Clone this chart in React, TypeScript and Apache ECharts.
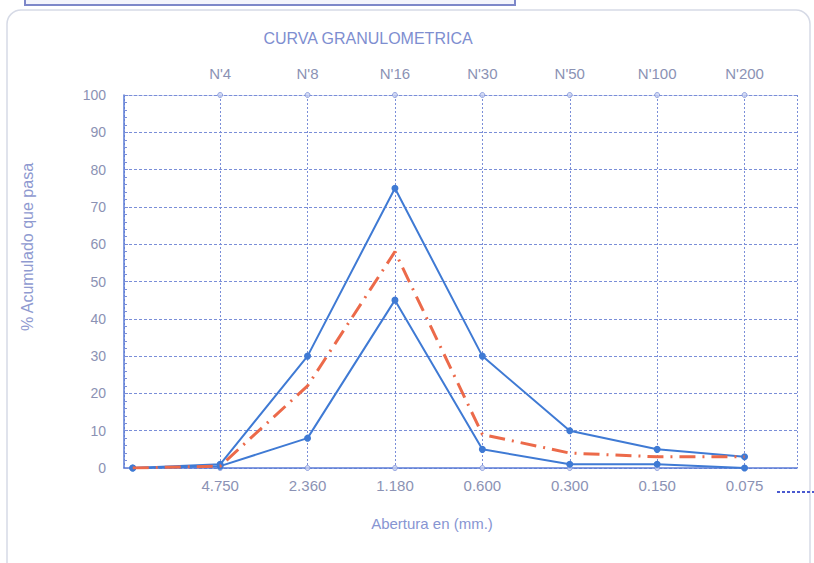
import React, { useEffect, useRef } from "react";
import * as echarts from "echarts";

const aperture = ["", "4.750", "2.360", "1.180", "0.600", "0.300", "0.150", "0.075"];
const sieves = ["", "N'4", "N'8", "N'16", "N'30", "N'50", "N'100", "N'200"];
const upperLimit = [0, 1, 30, 75, 30, 10, 5, 3];
const lowerLimit = [0, 0.5, 8, 45, 5, 1, 1, 0];
const sample = [0, 0.5, 22, 58, 9, 4, 3, 3];
const yTicks = [0, 10, 20, 30, 40, 50, 60, 70, 80, 90, 100];

const FONT = "'Liberation Sans', Arial, sans-serif";
const GRID = "#7a8ed8";
const LABEL = "#8b92b4";
const BLUE = "#3f7ad4";

export default function App() {
  const ref = useRef<HTMLDivElement>(null);
  useEffect(() => {
    if (!ref.current) return;
    const chart = echarts.init(ref.current, null, { renderer: "svg" });
    const labelIdx = aperture.map((_, i) => i).filter((i) => aperture[i] !== "");
    const gridIdx = [-0.1, ...labelIdx, 7.6];
    chart.setOption({
      animation: false,
      backgroundColor: "#ffffff",
      graphic: [
        {
          type: "rect",
          shape: { x: 7, y: 10, width: 803, height: 600, r: 14 },
          style: { fill: "none", stroke: "#d6dae6", lineWidth: 1.5 },
          silent: true,
        },
        {
          type: "rect",
          shape: { x: 25, y: -20, width: 490, height: 25 },
          style: { fill: "#f3f4fb", stroke: "#7d87c9", lineWidth: 2 },
          silent: true,
        },
        {
          type: "text",
          x: 368,
          y: 38,
          style: {
            text: "CURVA GRANULOMETRICA",
            fill: "#7e8ed0",
            font: `16px ${FONT}`,
            textAlign: "center",
            textVerticalAlign: "middle",
          },
        },
        {
          type: "text",
          x: 432,
          y: 523,
          style: {
            text: "Abertura en (mm.)",
            fill: "#8795d2",
            font: `15px ${FONT}`,
            textAlign: "center",
            textVerticalAlign: "middle",
          },
        },
        {
          type: "text",
          x: 27,
          y: 247,
          rotation: Math.PI / 2,
          style: {
            text: "% Acumulado que pasa",
            fill: "#8f9ad0",
            font: `16px ${FONT}`,
            textAlign: "center",
            textVerticalAlign: "middle",
          },
        },
        {
          type: "line",
          shape: { x1: 777, y1: 492, x2: 814, y2: 492 },
          style: { stroke: "#4a5ad0", lineWidth: 2, lineDash: [3, 2] },
          silent: true,
        },
      ],
      grid: { left: 124, right: 17, top: 95, bottom: 95 },
      xAxis: [
        {
          type: "value",
          position: "bottom",
          min: -0.1,
          max: 7.6,
          axisLine: { show: true, onZero: false, lineStyle: { color: "#5b7bd6", width: 1.5 } },
          axisTick: { show: false, customValues: gridIdx },
          axisLabel: {
            customValues: labelIdx,
            formatter: (v: number) => aperture[Math.round(v)] ?? "",
            color: LABEL,
            fontSize: 15,
            fontFamily: FONT,
            margin: 10,
            showMinLabel: true,
            showMaxLabel: true,
          },
          splitLine: { show: true, lineStyle: { color: GRID, type: [2, 2], width: 1 } },
        },
        {
          type: "value",
          position: "top",
          min: -0.1,
          max: 7.6,
          axisLine: { show: true, onZero: false, lineStyle: { color: GRID, type: [3, 2], width: 1 } },
          axisTick: { show: false, customValues: labelIdx },
          axisLabel: {
            customValues: labelIdx,
            formatter: (v: number) => sieves[Math.round(v)] ?? "",
            color: LABEL,
            fontSize: 15,
            fontFamily: FONT,
            margin: 14,
          },
          splitLine: { show: false },
        },
      ],
      yAxis: {
        type: "value",
        min: 0,
        max: 100,
        interval: 10,
        axisLine: { show: true, onZero: false, lineStyle: { color: "#5b7bd6", width: 1.5 } },
        axisTick: { show: true, inside: true, length: 4, lineStyle: { color: GRID } },
        minorTick: { show: true, splitNumber: 5, length: 3, lineStyle: { color: GRID } },
        axisLabel: {
          color: LABEL,
          fontSize: 14,
          fontFamily: FONT,
          margin: 18,
          customValues: yTicks,
        },
        splitLine: { show: true, lineStyle: { color: GRID, type: [3, 2], width: 1 } },
      },
      series: [
        {
          name: "marcas",
          type: "scatter",
          silent: true,
          symbol: "circle",
          symbolSize: 5,
          itemStyle: { color: "#c9d2f2", borderColor: "#7f92d8", borderWidth: 1 },
          data: labelIdx.flatMap((i) => [[i, 100], [i, 0]]),
          z: 1,
        },
        {
          name: "Límite superior",
          type: "line",
          data: upperLimit.map((v, i) => [i, v]),
          symbol: "circle",
          symbolSize: 7,
          lineStyle: { color: BLUE, width: 2 },
          itemStyle: { color: BLUE },
          z: 3,
        },
        {
          name: "Límite inferior",
          type: "line",
          data: lowerLimit.map((v, i) => [i, v]),
          symbol: "circle",
          symbolSize: 7,
          lineStyle: { color: BLUE, width: 2 },
          itemStyle: { color: BLUE },
          z: 3,
        },
        {
          name: "Muestra",
          type: "line",
          data: sample.map((v, i) => [i, v]),
          symbol: "none",
          lineStyle: { color: "#ec6a4a", width: 3, type: [16, 7, 2, 7] },
          z: 4,
        },
      ],
    });
    return () => chart.dispose();
  }, []);
  return (
    <div
      ref={ref}
      style={{ position: "absolute", left: 0, top: 0, width: 814, height: 563 }}
    />
  );
}
